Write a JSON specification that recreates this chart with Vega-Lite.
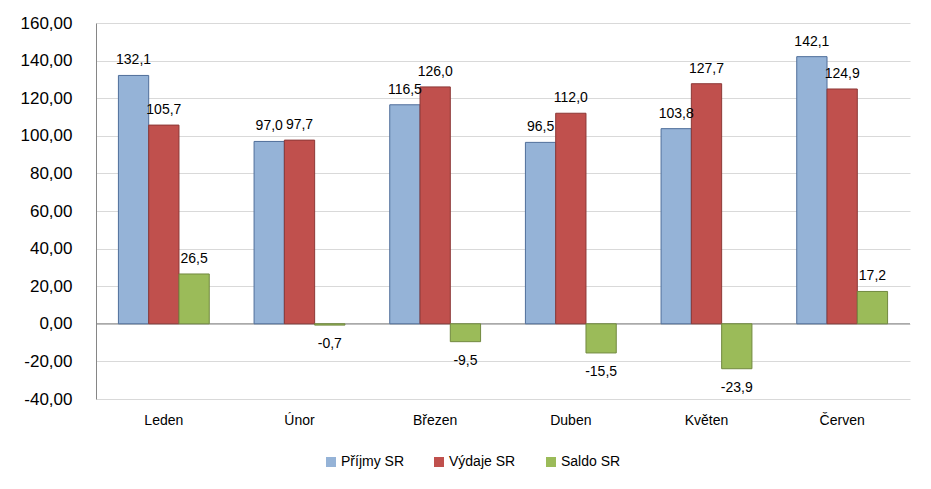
{
  "$schema": "https://vega.github.io/schema/vega-lite/v6.json",
  "width": 814,
  "height": 376,
  "autosize": "none",
  "padding": {"left": 96, "top": 23, "right": 21, "bottom": 90},
  "background": "white",
  "config": {
    "view": {"stroke": null},
    "font": "Liberation Sans",
    "locale": {"number": {"decimal": ",", "thousands": " ", "grouping": [3], "currency": ["", ""], "minus": "-"}}
  },
  "data": {
    "values": [
      {"month": "Leden", "series": "Příjmy SR", "value": 132.1},
      {"month": "Leden", "series": "Výdaje SR", "value": 105.7},
      {"month": "Leden", "series": "Saldo SR", "value": 26.5},
      {"month": "Únor", "series": "Příjmy SR", "value": 97.0},
      {"month": "Únor", "series": "Výdaje SR", "value": 97.7},
      {"month": "Únor", "series": "Saldo SR", "value": -0.7},
      {"month": "Březen", "series": "Příjmy SR", "value": 116.5},
      {"month": "Březen", "series": "Výdaje SR", "value": 126.0},
      {"month": "Březen", "series": "Saldo SR", "value": -9.5},
      {"month": "Duben", "series": "Příjmy SR", "value": 96.5},
      {"month": "Duben", "series": "Výdaje SR", "value": 112.0},
      {"month": "Duben", "series": "Saldo SR", "value": -15.5},
      {"month": "Květen", "series": "Příjmy SR", "value": 103.8},
      {"month": "Květen", "series": "Výdaje SR", "value": 127.7},
      {"month": "Květen", "series": "Saldo SR", "value": -23.9},
      {"month": "Červen", "series": "Příjmy SR", "value": 142.1},
      {"month": "Červen", "series": "Výdaje SR", "value": 124.9},
      {"month": "Červen", "series": "Saldo SR", "value": 17.2}
    ]
  },
  "encoding": {
    "x": {
      "field": "month", "type": "nominal",
      "sort": ["Leden", "Únor", "Březen", "Duben", "Květen", "Červen"],
      "scale": {"paddingInner": 0, "paddingOuter": 0},
      "axis": {"title": null, "domain": false, "ticks": false, "labelAngle": 0, "labelFontSize": 14, "labelColor": "#000000", "labelPadding": 14}
    },
    "xOffset": {
      "field": "series", "type": "nominal",
      "sort": ["Příjmy SR", "Výdaje SR", "Saldo SR"],
      "scale": {"paddingInner": 0, "paddingOuter": 0.74}
    },
    "y": {
      "field": "value", "type": "quantitative",
      "scale": {"domain": [-40, 160], "nice": false, "zero": false},
      "axis": {"title": null, "values": [-40, -20, 0, 20, 40, 60, 80, 100, 120, 140, 160], "labelOverlap": false, "format": ".2f", "labelFontSize": 17, "labelColor": "#000000", "labelPadding": 24, "ticks": false, "domainColor": "#868686", "gridColor": "#D9D9D9", "grid": true}
    }
  },
  "layer": [
    {
      "mark": {"type": "rule", "color": "#868686", "strokeWidth": 1},
      "data": {"values": [{"z": 0}]},
      "encoding": {"y": {"field": "z", "type": "quantitative"}, "x": null, "xOffset": null}
    },
    {
      "mark": {"type": "bar", "strokeWidth": 1},
      "encoding": {
        "color": {
          "field": "series", "type": "nominal",
          "sort": ["Příjmy SR", "Výdaje SR", "Saldo SR"],
          "scale": {"domain": ["Příjmy SR", "Výdaje SR", "Saldo SR"], "range": ["#95B3D7", "#C0504D", "#9BBB59"]},
          "legend": {"title": null, "orient": "none", "direction": "horizontal", "legendX": 228, "legendY": 432, "symbolType": "square", "symbolSize": 100, "labelFontSize": 14, "labelColor": "#000000", "columnPadding": 28, "labelOffset": 3, "symbolStrokeWidth": 0}
        },
        "stroke": {
          "field": "series", "type": "nominal",
          "scale": {"domain": ["Příjmy SR", "Výdaje SR", "Saldo SR"], "range": ["#4F6E9A", "#8C3836", "#71893F"]},
          "legend": null
        }
      }
    },
    {
      "transform": [{"filter": "datum.value >= 0"}],
      "mark": {"type": "text", "baseline": "alphabetic", "dy": -11, "fontSize": 14, "color": "#000000"},
      "encoding": {"text": {"field": "value", "type": "quantitative", "format": ".1f"}}
    },
    {
      "transform": [{"filter": "datum.value < 0"}],
      "mark": {"type": "text", "baseline": "top", "dy": 12, "fontSize": 14, "color": "#000000"},
      "encoding": {"text": {"field": "value", "type": "quantitative", "format": ".1f"}}
    }
  ]
}
